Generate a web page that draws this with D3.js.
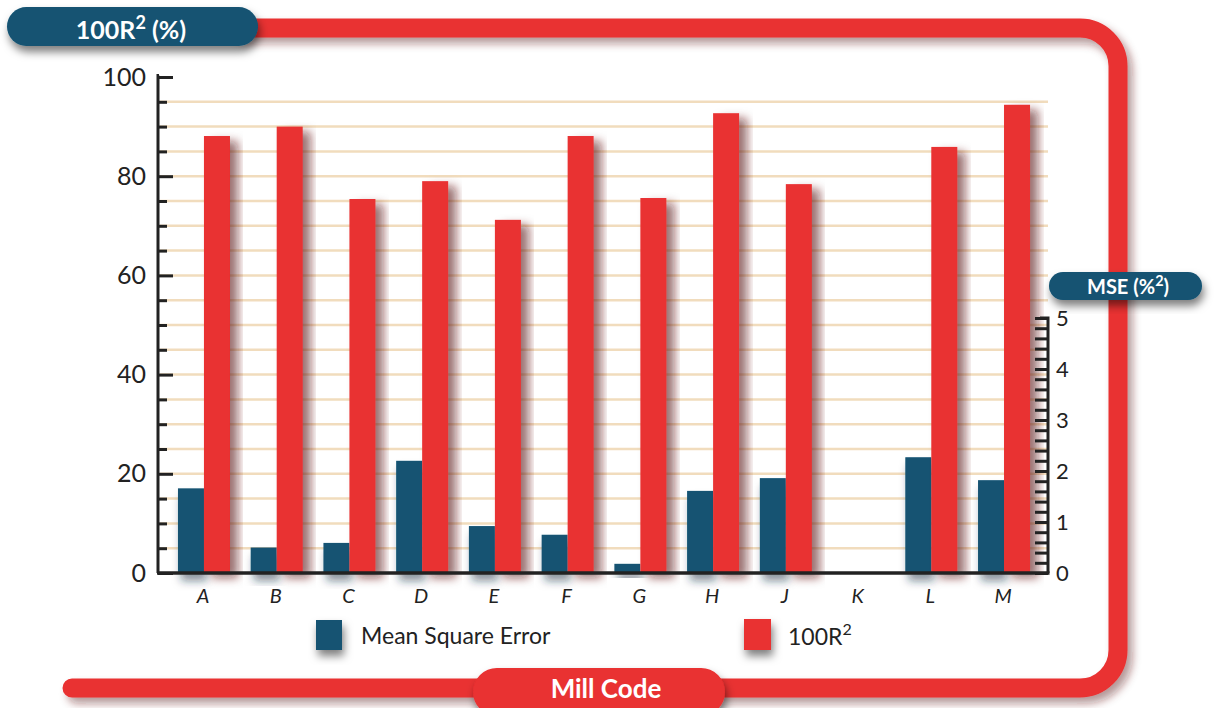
<!DOCTYPE html>
<html>
<head>
<meta charset="utf-8">
<script src="https://cdn.jsdelivr.net/npm/d3@7"></script>
<style>
  html, body { margin: 0; padding: 0; background: #ffffff; }
  svg { display: block; font-family: Lato, "Open Sans", "Noto Sans", sans-serif; }
</style>
</head>
<body>
<svg id="chart" width="1216" height="708"></svg>
<script>
// ---- data ----
const categories = ["A","B","C","D","E","F","G","H","J","K","L","M"];
const r2Values  = [88.1, 90.0, 75.4, 79.0, 71.2, 88.1, 75.6, 92.7, 78.4, null, 85.9, 94.4];
const mseValues = [1.66, 0.50, 0.59, 2.20, 0.92, 0.75, 0.18, 1.61, 1.86, null, 2.27, 1.82];
const leftTicks  = [0, 20, 40, 60, 80, 100];
const rightTicks = [0, 1, 2, 3, 4, 5];
const seriesNames = ["Mean Square Error", "100R"];

const RED = "#e93031", BLUE = "#135272", INK = "#222222";

const svg = d3.select("#chart");
const defs = svg.append("defs");
function shadow(id, dx, dy, sd, color, op) {
  const f = defs.append("filter").attr("id", id)
    .attr("x", "-50%").attr("y", "-50%").attr("width", "200%").attr("height", "200%");
  f.append("feDropShadow").attr("dx", dx).attr("dy", dy).attr("stdDeviation", sd)
    .attr("flood-color", color).attr("flood-opacity", op);
}
shadow("shRed", 8, 5, 5, "#5a1515", 0.6);
shadow("shBlue", 3, 8, 4, "#0d2a3a", 0.5);
shadow("shFrame", 5, 6, 4, "#5a1515", 0.45);
shadow("shPill", 2, 6, 4, "#000000", 0.5);

// ---- scales ----
const x = d3.scaleBand().domain(categories).range([166.6, 1039.4]).padding(0);
const xs = d3.scaleBand().domain(["mse", "r2"])
  .range([(x.step() - 52) / 2 + 1, (x.step() + 52) / 2 + 1]);
const yL = d3.scaleLinear().domain([0, 100]).range([573, 77]);
const yR = d3.scaleLinear().domain([0, 5]).range([573, 318]);

// ---- frame ----
svg.append("path")
  .attr("d", "M 72,688 H 1080 A 38 38 0 0 0 1118 650 V 66 A 38 38 0 0 0 1080 28 H 240")
  .attr("fill", "none").attr("stroke", RED).attr("stroke-width", 19)
  .attr("stroke-linecap", "round").attr("filter", "url(#shFrame)");

// ---- gridlines ----
const gridVals = d3.range(5, 100, 5);
svg.append("g").selectAll("line").data(gridVals).join("line")
  .attr("x1", 160).attr("x2", 1048)
  .attr("y1", d => yL(d)).attr("y2", d => yL(d))
  .attr("stroke", "#f1dcbd").attr("stroke-width", 2.5);

// ---- bars ----
const rows = categories.map((c, i) => ({ c, r2: r2Values[i], mse: mseValues[i] }));
svg.append("g").selectAll("rect").data(rows.filter(d => d.mse != null)).join("rect")
  .attr("x", d => x(d.c) + xs("mse"))
  .attr("width", xs.bandwidth())
  .attr("y", d => yR(d.mse))
  .attr("height", d => yR(0) - yR(d.mse))
  .attr("fill", BLUE).attr("filter", "url(#shBlue)");
svg.append("g").selectAll("rect").data(rows.filter(d => d.r2 != null)).join("rect")
  .attr("x", d => x(d.c) + xs("r2"))
  .attr("width", xs.bandwidth())
  .attr("y", d => yL(d.r2))
  .attr("height", d => yL(0) - yL(d.r2))
  .attr("fill", RED).attr("filter", "url(#shRed)");

// ---- axes ----
const gL = svg.append("g").attr("transform", "translate(158,0)");
gL.call(d3.axisRight(yL).tickValues(d3.range(0, 101, 5)).tickSize(9).tickFormat(""));
gL.selectAll(".tick line").attr("stroke", INK).attr("stroke-width", 3)
  .attr("x2", d => d % 20 === 0 ? 15 : 9);
gL.select(".domain").attr("stroke", INK).attr("stroke-width", 3)
  .attr("d", `M1,${yL(100) - 1.5}H0V${yL(0)}`);
const gLL = svg.append("g").attr("transform", "translate(146,0)");
gLL.call(d3.axisLeft(yL).tickValues(leftTicks).tickSize(0).tickPadding(0));
gLL.select(".domain").remove();
gLL.selectAll("text").attr("font-size", 25).attr("font-weight", 400)
  .attr("fill", INK).attr("font-family", "Lato, 'Open Sans', sans-serif");

const gR = svg.append("g").attr("transform", "translate(1048,0)");
gR.call(d3.axisLeft(yR).tickValues(d3.range(0, 5.01, 0.2).map(v => +v.toFixed(1))).tickSize(13).tickFormat(""));
gR.selectAll(".tick line").attr("stroke", INK).attr("stroke-width", 3);
gR.select(".domain").attr("stroke", INK).attr("stroke-width", 3)
  .attr("d", `M-8,${yR(5)}H0V${yR(0)}`);
const gRL = svg.append("g").attr("transform", "translate(1056,0)");
gRL.call(d3.axisRight(yR).tickValues(rightTicks).tickSize(0).tickPadding(0).tickFormat(d3.format("d")));
gRL.select(".domain").remove();
gRL.selectAll("text").attr("font-size", 22).attr("font-weight", 400)
  .attr("fill", INK).attr("font-family", "Lato, 'Open Sans', sans-serif");

const gB = svg.append("g").attr("transform", "translate(0,573)");
gB.call(d3.axisBottom(x).tickSize(0).tickPadding(16));
gB.select(".domain").attr("stroke", INK).attr("stroke-width", 3.5)
  .attr("d", "M157,0H1049.5");
gB.selectAll("text").attr("font-size", 20).attr("font-style", "italic")
  .attr("font-weight", 400).attr("fill", INK)
  .attr("font-family", "Lato, 'Open Sans', sans-serif");

// ---- legend ----
const leg = svg.append("g");
leg.append("rect").attr("x", 316).attr("y", 620).attr("width", 26).attr("height", 30)
  .attr("fill", BLUE).attr("filter", "url(#shPill)");
leg.append("text").attr("x", 361).attr("y", 644).attr("font-size", 23).attr("font-weight", 400)
  .attr("fill", INK).text(seriesNames[0]);
leg.append("rect").attr("x", 744).attr("y", 619).attr("width", 27).attr("height", 31)
  .attr("fill", RED).attr("filter", "url(#shPill)");
const lt = leg.append("text").attr("x", 788).attr("y", 645).attr("font-size", 23)
  .attr("font-weight", 400).attr("fill", INK);
lt.append("tspan").text(seriesNames[1]);
lt.append("tspan").attr("font-size", 16).attr("dy", -10).text("2");

// ---- pills ----
function pill(x0, y0, w, h, fill, parts, fs, cx, cy) {
  const g = svg.append("g");
  g.append("rect").attr("x", x0).attr("y", y0).attr("width", w).attr("height", h)
    .attr("rx", h / 2).attr("ry", h / 2).attr("fill", fill).attr("filter", "url(#shPill)");
  const t = g.append("text").attr("x", cx).attr("y", cy).attr("text-anchor", "middle")
    .attr("fill", "#ffffff").attr("font-size", fs).attr("font-weight", 700)
    .attr("font-family", "Lato, 'Open Sans', sans-serif");
  parts.forEach(p => {
    const s = t.append("tspan").text(p.t);
    if (p.sup) s.attr("font-size", fs * 0.72).attr("dy", -fs * 0.42);
    if (p.down) s.attr("dy", fs * 0.42);
  });
}
pill(7, 7, 251, 39, BLUE,
  [{ t: "100R" }, { t: "2", sup: true }, { t: "\u00a0(%)", down: true }], 25, 131, 39);
pill(1049, 272, 153, 28, BLUE,
  [{ t: "MSE (%" }, { t: "2", sup: true }, { t: ")", down: true }], 20, 1128, 294);
pill(473, 668, 252, 48, RED, [{ t: "Mill Code" }], 26, 606, 698);
</script>
</body>
</html>
